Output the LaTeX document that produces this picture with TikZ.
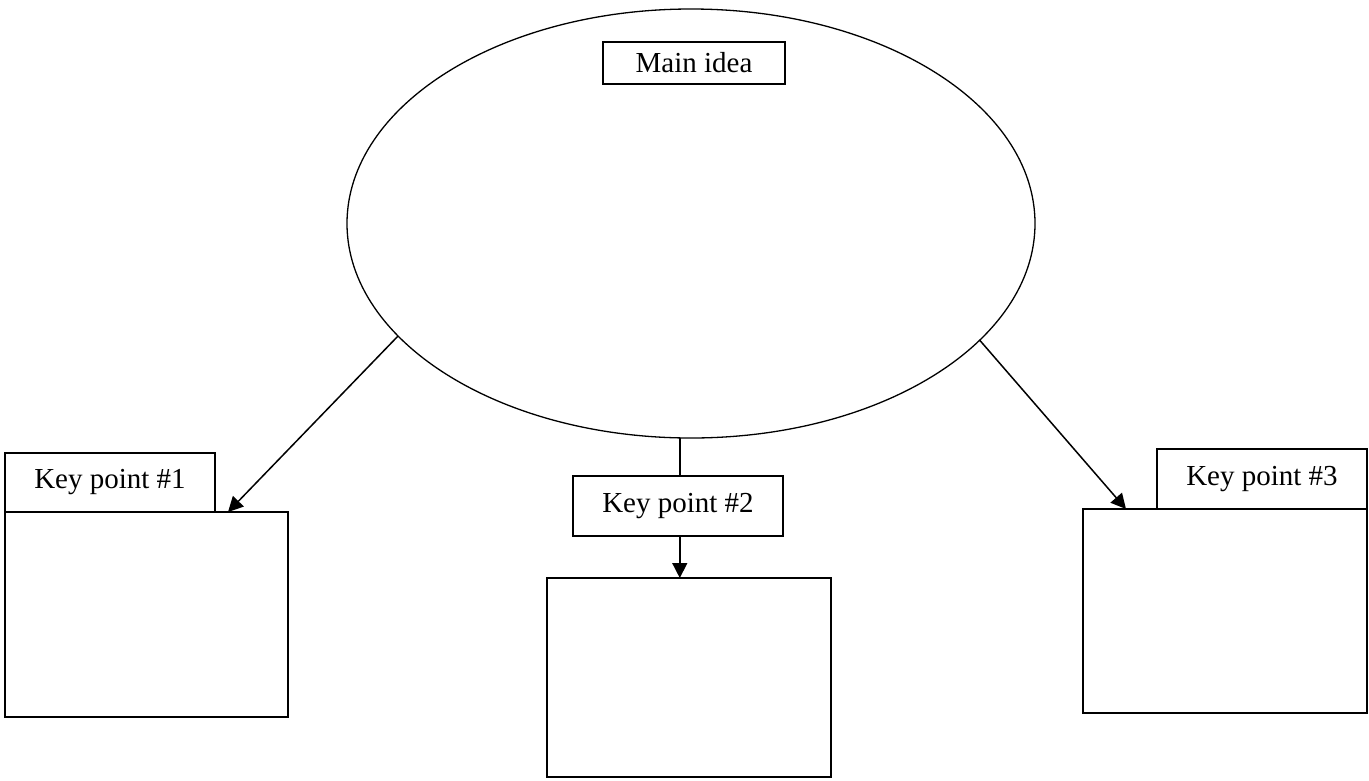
\documentclass[tikz,border=0pt]{standalone}
\usepackage{fontspec}
\setmainfont{Liberation Serif}
\usetikzlibrary{shapes.geometric,arrows.meta}
\begin{document}
\begin{tikzpicture}[x=1pt,y=-1pt,
  box/.style={draw,line width=1.6pt,inner sep=0pt,outer sep=0pt,fill=white},
  tab/.style={box,font=\fontsize{29}{34}\selectfont},
  conn/.style={line width=1.5pt},
  arr/.style={conn,-{Triangle[length=15pt,width=15pt]}}]
\useasboundingbox (0,0) rectangle (1369,780);
\node[draw,ellipse,line width=1.3pt,inner sep=0pt,outer sep=0pt,minimum width=688pt,minimum height=429pt] (ell) at (691,223.5) {};
\node[tab,minimum width=182pt,minimum height=42pt] (main) at (694,63) {Main idea};
% key point 1
\node[tab,minimum width=210pt,minimum height=59pt] (tab1) at (110,482.5) {Key point \#1};
\node[box,minimum width=283pt,minimum height=205pt] (box1) at (146.5,614.5) {};
% key point 2
\node[tab,minimum width=210pt,minimum height=60pt] (tab2) at (678,506) {Key point \#2};
\node[box,minimum width=284pt,minimum height=199pt] (box2) at (689,677.5) {};
% key point 3
\node[tab,minimum width=210pt,minimum height=60pt] (tab3) at (1262,479) {Key point \#3};
\node[box,minimum width=284pt,minimum height=204pt] (box3) at (1225,611) {};
% connectors
\coordinate (t1) at (228,512);
\coordinate (t3) at (1126,509);
\draw[arr] (ell.201.4) -- (t1);
\draw[arr] (ell.338.7) -- (t3);
\draw[conn] (ell.267.3) -- (ell.267.3 |- tab2.north);
\draw[arr] (ell.267.3 |- tab2.south) -- (ell.267.3 |- box2.north);
\end{tikzpicture}
\end{document}
